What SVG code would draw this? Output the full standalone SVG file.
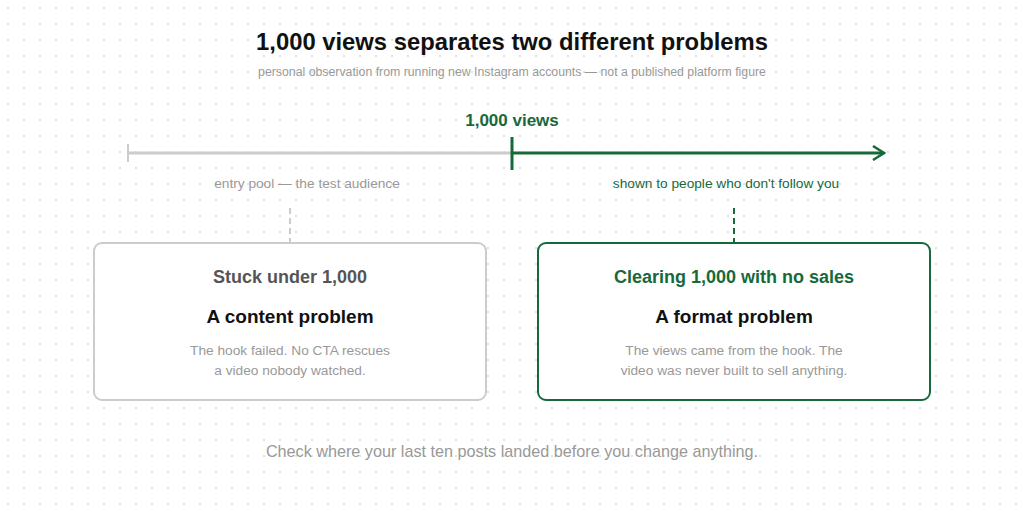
<svg xmlns="http://www.w3.org/2000/svg" width="1024" height="512" viewBox="0 0 1024 512">
<defs>
<pattern id="dots" width="16" height="16" patternUnits="userSpaceOnUse"><circle cx="8" cy="8" r="0.9" fill="#d4d4d4"/></pattern>
<marker id="arr" markerWidth="14" markerHeight="16" refX="12" refY="8" orient="auto" markerUnits="userSpaceOnUse"><path d="M1,1 L12,8 L1,15" fill="none" stroke="#17693a" stroke-width="2.5"/></marker>
<style>
text{font-family:"Liberation Sans",Arial,sans-serif;text-anchor:middle}
.g{fill:#17693a}.mut{fill:#999}.dark{fill:#111}
</style>
</defs>
<rect width="1024" height="512" fill="#fff"/>
<rect width="1024" height="512" fill="url(#dots)"/>
<text x="512" y="50" font-size="23.8" font-weight="bold" class="dark">1,000 views separates two different problems</text>
<text x="512" y="76" font-size="12.3" class="mut">personal observation from running new Instagram accounts — not a published platform figure</text>
<text x="512" y="126" font-size="17" font-weight="bold" class="g">1,000 views</text>
<g id="connectors">
<line x1="128" y1="153" x2="512" y2="153" stroke="#ccc" stroke-width="3"/>
<line x1="128" y1="144" x2="128" y2="162" stroke="#ccc" stroke-width="2"/>
<line x1="512" y1="153" x2="884" y2="153" stroke="#17693a" stroke-width="3" marker-end="url(#arr)"/>
<line x1="512" y1="137" x2="512" y2="170" stroke="#17693a" stroke-width="3"/>
<line x1="290" y1="208" x2="290" y2="242" stroke="#ccc" stroke-width="2" stroke-dasharray="6,4"/>
<line x1="734" y1="208" x2="734" y2="242" stroke="#17693a" stroke-width="2" stroke-dasharray="6,4"/>
</g>
<text x="307" y="188" font-size="13.7" class="mut">entry pool — the test audience</text>
<text x="726" y="188" font-size="13.7" class="g">shown to people who don't follow you</text>
<g id="node-content">
<rect x="94" y="243" width="392" height="157" rx="8" fill="#fff" stroke="#ccc" stroke-width="2"/>
<text x="290" y="283" font-size="18" font-weight="bold" fill="#555">Stuck under 1,000</text>
<text x="290" y="323" font-size="19" font-weight="bold" class="dark">A content problem</text>
<text x="290" y="355" font-size="13.7" class="mut">The hook failed. No CTA rescues</text>
<text x="290" y="375" font-size="13.7" class="mut">a video nobody watched.</text>
</g>
<g id="node-format">
<rect x="538" y="243" width="392" height="157" rx="8" fill="#fff" stroke="#17693a" stroke-width="2"/>
<text x="734" y="283" font-size="18" font-weight="bold" class="g">Clearing 1,000 with no sales</text>
<text x="734" y="323" font-size="19" font-weight="bold" class="dark">A format problem</text>
<text x="734" y="355" font-size="13.7" class="mut">The views came from the hook. The</text>
<text x="734" y="375" font-size="13.7" class="mut">video was never built to sell anything.</text>
</g>
<text x="512" y="457" font-size="16.2" class="mut">Check where your last ten posts landed before you change anything.</text>
</svg>
